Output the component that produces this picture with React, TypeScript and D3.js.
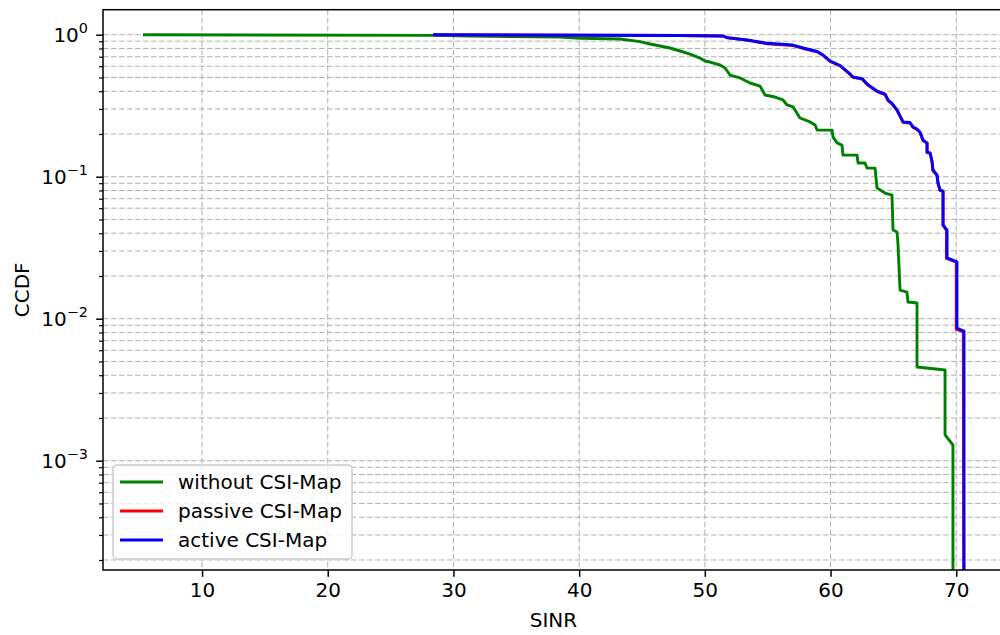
import * as d3 from "d3";
import React, { useRef, useEffect } from "react";

// CCDF of SINR
const withoutSinr = [
  5.3, 28.38, 31.32, 38.48, 40.07, 43.25, 44.84, 45.64, 46.44, 47.23, 48.03,
  48.82, 49.62, 50.02, 50.41, 51.21, 51.61, 52.0, 52.8, 53.6, 54.39, 54.79,
  55.58, 56.22, 56.54, 57.02, 57.57, 58.37, 58.77, 58.93, 60.12, 60.2, 60.52,
  60.91, 60.99, 62.11, 62.19, 62.74, 62.9, 63.54, 63.7, 64.33, 64.89, 64.97,
  65.29, 65.37, 65.53, 66.08, 66.16, 66.88, 66.88, 69.11, 69.11, 69.74, 69.74,
];
const withoutCcdf = [
  1.0, 0.99, 0.979, 0.963, 0.945, 0.933, 0.893, 0.86, 0.833, 0.806, 0.768,
  0.731, 0.685, 0.653, 0.642, 0.612, 0.583, 0.52, 0.496, 0.457, 0.435, 0.376,
  0.364, 0.347, 0.32, 0.31, 0.259, 0.243, 0.231, 0.213, 0.213, 0.19, 0.173,
  0.167, 0.142, 0.142, 0.125, 0.125, 0.115, 0.115, 0.0832, 0.0767, 0.0743,
  0.0421, 0.0408, 0.0331, 0.0159, 0.0154, 0.0131, 0.0129, 0.00457, 0.00435,
  0.00152, 0.00129, 0.0001,
];

const passiveSinr = [
  28.38, 48.03, 51.45, 51.77, 53.36, 54.95, 57.02, 57.82, 58.94, 59.41, 59.96,
  60.76, 61.55, 61.79, 62.51, 62.9, 63.7, 64.34, 64.57, 64.89, 65.29, 65.53,
  65.77, 66.32, 66.56, 66.88, 67.12, 67.36, 67.68, 67.68, 67.92, 68.07, 68.15,
  68.47, 68.55, 68.71, 68.95, 68.95, 69.22, 69.22, 70.0, 70.0, 70.56, 70.6,
];
const passiveCcdf = [
  1.0, 0.987, 0.979, 0.952, 0.915, 0.863, 0.838, 0.8, 0.757, 0.715, 0.649,
  0.602, 0.525, 0.501, 0.487, 0.447, 0.398, 0.379, 0.344, 0.326, 0.293, 0.266,
  0.241, 0.239, 0.222, 0.215, 0.205, 0.18, 0.172, 0.148, 0.146, 0.128, 0.11,
  0.102, 0.0897, 0.0801, 0.0789, 0.0455, 0.042, 0.0266, 0.025, 0.0084, 0.0081,
  0.0001,
];

const activeSinr = [
  28.38, 48.03, 51.45, 51.77, 53.36, 54.95, 57.02, 57.82, 58.94, 59.41, 59.96,
  60.76, 61.55, 61.79, 62.51, 62.9, 63.7, 64.34, 64.57, 64.89, 65.29, 65.53,
  65.77, 66.32, 66.56, 66.88, 67.12, 67.36, 67.68, 67.68, 67.92, 68.07, 68.15,
  68.47, 68.55, 68.71, 68.95, 68.95, 69.27, 69.27, 70.06, 70.06, 70.58, 70.62,
  70.62,
];
const activeCcdf = [
  1.0, 0.987, 0.979, 0.953, 0.918, 0.87, 0.846, 0.806, 0.762, 0.719, 0.653,
  0.607, 0.529, 0.504, 0.491, 0.45, 0.401, 0.382, 0.347, 0.328, 0.295, 0.268,
  0.243, 0.241, 0.224, 0.217, 0.206, 0.181, 0.173, 0.149, 0.147, 0.129, 0.1115,
  0.103, 0.0903, 0.0806, 0.0793, 0.0457, 0.0421, 0.0268, 0.0251, 0.0086,
  0.0082, 0.0082, 0.0001,
];

const xTicks = [10, 20, 30, 40, 50, 60, 70];
const yExponents = [-3, -2, -1, 0];
const seriesNames = ["without CSI-Map", "passive CSI-Map", "active CSI-Map"];
const seriesColors = ["#008000", "#ff0000", "#0000ff"];

const FONT = "DejaVu Sans, sans-serif";

const App = () => {
  const ref = useRef<SVGSVGElement>(null);

  useEffect(() => {
    if (!ref.current) return;
    const svg = d3.select(ref.current);
    svg.selectAll("*").remove();

    const left = 103;
    const right = 1004;
    const top = 9.7;
    const bottom = 570;
    const fs = 20;

    const x = d3.scaleLinear().domain([2.12, 73.8]).range([left, right]);
    const y = d3.scaleLog().domain([1.7e-4, 1.5]).range([bottom, top]);

    const minorY: number[] = [];
    for (let k = -4; k <= 0; k++) {
      for (let m = 2; m <= 9; m++) {
        const v = m * Math.pow(10, k);
        if (v >= 1.7e-4 && v <= 1.5) minorY.push(v);
      }
    }
    const majorY = yExponents.map((e) => Math.pow(10, e));

    svg
      .append("defs")
      .append("clipPath")
      .attr("id", "plot-clip")
      .append("rect")
      .attr("x", left)
      .attr("y", top)
      .attr("width", right - left)
      .attr("height", bottom - top);

    // grid
    const grid = svg.append("g");
    grid
      .selectAll(".hgrid")
      .data([...majorY, ...minorY])
      .enter()
      .append("line")
      .attr("x1", left)
      .attr("x2", right)
      .attr("y1", (d) => y(d))
      .attr("y2", (d) => y(d))
      .attr("stroke", "#b0b0b0")
      .attr("stroke-width", 1)
      .attr("stroke-dasharray", "5.5,2.5");
    grid
      .selectAll(".vgrid")
      .data(xTicks)
      .enter()
      .append("line")
      .attr("x1", (d) => x(d))
      .attr("x2", (d) => x(d))
      .attr("y1", top)
      .attr("y2", bottom)
      .attr("stroke", "#b0b0b0")
      .attr("stroke-width", 1)
      .attr("stroke-dasharray", "5.5,2.5");

    // lines
    const line = d3
      .line<[number, number]>()
      .x((d) => x(d[0]))
      .y((d) => y(d[1]));

    const series = [
      d3.zip(withoutSinr, withoutCcdf),
      d3.zip(passiveSinr, passiveCcdf),
      d3.zip(activeSinr, activeCcdf),
    ];
    const plot = svg.append("g").attr("clip-path", "url(#plot-clip)");
    series.forEach((pts, i) => {
      plot
        .append("path")
        .datum(pts as [number, number][])
        .attr("fill", "none")
        .attr("stroke", seriesColors[i])
        .attr("stroke-width", 2.9)
        .attr("stroke-linejoin", "round")
        .attr("d", line);
    });

    // frame
    svg
      .append("rect")
      .attr("x", left)
      .attr("y", top)
      .attr("width", right - left)
      .attr("height", bottom - top)
      .attr("fill", "none")
      .attr("stroke", "#000")
      .attr("stroke-width", 1.5);

    // x axis
    const xAxis = svg
      .append("g")
      .attr("transform", `translate(0,${bottom})`)
      .call(
        d3.axisBottom(x).tickValues(xTicks).tickSize(6.8).tickSizeOuter(0).tickPadding(6)
      );
    xAxis.select(".domain").remove();
    xAxis.selectAll("line").attr("stroke", "#000").attr("stroke-width", 1.5);
    xAxis
      .selectAll("text")
      .attr("font-family", FONT)
      .attr("font-size", fs)
      .attr("fill", "#000");

    // y axis ticks
    const yAxis = svg
      .append("g")
      .attr("transform", `translate(${left},0)`)
      .call(
        d3.axisLeft(y).tickValues(majorY).tickSize(6.8).tickSizeOuter(0).tickFormat(() => "")
      );
    yAxis.select(".domain").remove();
    yAxis.selectAll("line").attr("stroke", "#000").attr("stroke-width", 1.5);

    const yMinor = svg
      .append("g")
      .attr("transform", `translate(${left},0)`)
      .call(
        d3.axisLeft(y).tickValues(minorY).tickSize(3.9).tickSizeOuter(0).tickFormat(() => "")
      );
    yMinor.select(".domain").remove();
    yMinor.selectAll("line").attr("stroke", "#000").attr("stroke-width", 1.2);

    // y tick labels 10^k
    yExponents.forEach((e) => {
      const t = svg
        .append("text")
        .attr("x", left - 15)
        .attr("y", y(Math.pow(10, e)) + 7.5)
        .attr("text-anchor", "end")
        .attr("font-family", FONT)
        .attr("font-size", fs)
        .attr("fill", "#000");
      t.append("tspan").text("10");
      t.append("tspan")
        .attr("dy", -9)
        .attr("font-size", fs * 0.72)
        .text(e < 0 ? `\u2212${-e}` : `${e}`);
    });

    // axis labels
    svg
      .append("text")
      .attr("x", (left + right) / 2)
      .attr("y", 627)
      .attr("text-anchor", "middle")
      .attr("font-family", FONT)
      .attr("font-size", fs)
      .text("SINR");
    svg
      .append("text")
      .attr("transform", `translate(29,${(top + bottom) / 2}) rotate(-90)`)
      .attr("text-anchor", "middle")
      .attr("font-family", FONT)
      .attr("font-size", fs)
      .text("CCDF");

    // legend
    const legend = svg.append("g");
    legend
      .append("rect")
      .attr("x", 113)
      .attr("y", 465)
      .attr("width", 239)
      .attr("height", 94)
      .attr("rx", 4)
      .attr("fill", "#fff")
      .attr("fill-opacity", 0.8)
      .attr("stroke", "#cccccc")
      .attr("stroke-width", 1.5);
    seriesNames.forEach((name, i) => {
      const cy = 482 + i * 29;
      legend
        .append("line")
        .attr("x1", 120)
        .attr("x2", 163)
        .attr("y1", cy)
        .attr("y2", cy)
        .attr("stroke", seriesColors[i])
        .attr("stroke-width", 2.9);
      legend
        .append("text")
        .attr("x", 178)
        .attr("y", cy + 7)
        .attr("font-family", FONT)
        .attr("font-size", fs)
        .attr("fill", "#000")
        .text(name);
    });
  }, []);

  return (
    <svg
      ref={ref}
      width={1000}
      height={635}
      style={{ position: "absolute", left: 0, top: 0, background: "#fff" }}
    />
  );
};

export default App;
